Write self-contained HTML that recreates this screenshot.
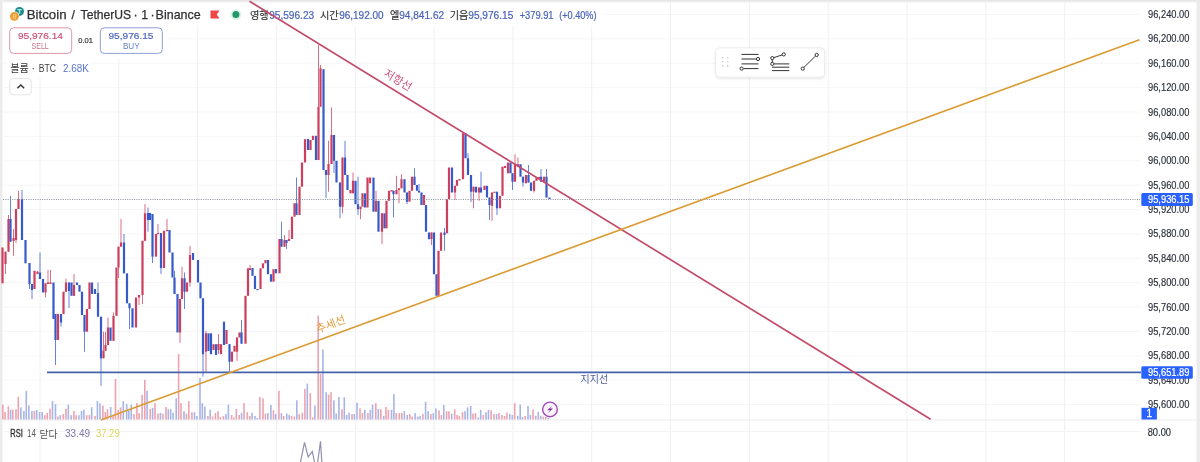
<!DOCTYPE html>
<html><head><meta charset="utf-8"><title>BTCUSDT chart</title>
<style>html,body{margin:0;padding:0;background:#fff;overflow:hidden;width:1200px;height:462px}svg{display:block}</style>
</head><body>
<svg width="1200" height="462" viewBox="0 0 1200 462">
<defs><filter id="sh" x="-10%" y="-20%" width="120%" height="150%"><feDropShadow dx="0" dy="1" stdDeviation="1" flood-color="#000" flood-opacity="0.12"/></filter></defs>
<rect x="0" y="0" width="1200" height="462" fill="#ffffff"/>
<rect x="0" y="0" width="1200" height="1.8" fill="#e6e6e6"/>
<rect x="0" y="1.8" width="1200" height="0.8" fill="#f3f3f3"/>
<rect x="0" y="0" width="2.4" height="462" fill="#ebebeb"/>
<rect x="2.4" y="0" width="0.8" height="462" fill="#f5f5f5"/>
<rect x="1196.5" y="0" width="3.5" height="462" fill="#ebebeb"/>
<line x1="3" y1="14.5" x2="1140" y2="14.5" stroke="#f6f6f8" stroke-width="1"/>
<line x1="3" y1="38.88" x2="1140" y2="38.88" stroke="#f6f6f8" stroke-width="1"/>
<line x1="3" y1="63.26" x2="1140" y2="63.26" stroke="#f6f6f8" stroke-width="1"/>
<line x1="3" y1="87.64" x2="1140" y2="87.64" stroke="#f6f6f8" stroke-width="1"/>
<line x1="3" y1="112.02" x2="1140" y2="112.02" stroke="#f6f6f8" stroke-width="1"/>
<line x1="3" y1="136.4" x2="1140" y2="136.4" stroke="#f6f6f8" stroke-width="1"/>
<line x1="3" y1="160.78" x2="1140" y2="160.78" stroke="#f6f6f8" stroke-width="1"/>
<line x1="3" y1="185.16" x2="1140" y2="185.16" stroke="#f6f6f8" stroke-width="1"/>
<line x1="3" y1="209.54" x2="1140" y2="209.54" stroke="#f6f6f8" stroke-width="1"/>
<line x1="3" y1="233.92" x2="1140" y2="233.92" stroke="#f6f6f8" stroke-width="1"/>
<line x1="3" y1="258.3" x2="1140" y2="258.3" stroke="#f6f6f8" stroke-width="1"/>
<line x1="3" y1="282.68" x2="1140" y2="282.68" stroke="#f6f6f8" stroke-width="1"/>
<line x1="3" y1="307.06" x2="1140" y2="307.06" stroke="#f6f6f8" stroke-width="1"/>
<line x1="3" y1="331.44" x2="1140" y2="331.44" stroke="#f6f6f8" stroke-width="1"/>
<line x1="3" y1="355.82" x2="1140" y2="355.82" stroke="#f6f6f8" stroke-width="1"/>
<line x1="3" y1="380.2" x2="1140" y2="380.2" stroke="#f6f6f8" stroke-width="1"/>
<line x1="3" y1="404.58" x2="1140" y2="404.58" stroke="#f6f6f8" stroke-width="1"/>
<line x1="40" y1="3" x2="40" y2="462" stroke="#f0f0f2" stroke-width="1"/>
<line x1="118.82" y1="3" x2="118.82" y2="462" stroke="#f0f0f2" stroke-width="1"/>
<line x1="197.64" y1="3" x2="197.64" y2="462" stroke="#f0f0f2" stroke-width="1"/>
<line x1="276.46" y1="3" x2="276.46" y2="462" stroke="#f0f0f2" stroke-width="1"/>
<line x1="355.28" y1="3" x2="355.28" y2="462" stroke="#f0f0f2" stroke-width="1"/>
<line x1="434.1" y1="3" x2="434.1" y2="462" stroke="#f0f0f2" stroke-width="1"/>
<line x1="512.92" y1="3" x2="512.92" y2="462" stroke="#f0f0f2" stroke-width="1"/>
<line x1="591.74" y1="3" x2="591.74" y2="462" stroke="#f0f0f2" stroke-width="1"/>
<line x1="670.56" y1="3" x2="670.56" y2="462" stroke="#f0f0f2" stroke-width="1"/>
<line x1="749.38" y1="3" x2="749.38" y2="462" stroke="#f0f0f2" stroke-width="1"/>
<line x1="828.2" y1="3" x2="828.2" y2="462" stroke="#f0f0f2" stroke-width="1"/>
<line x1="907.02" y1="3" x2="907.02" y2="462" stroke="#f0f0f2" stroke-width="1"/>
<line x1="985.84" y1="3" x2="985.84" y2="462" stroke="#f0f0f2" stroke-width="1"/>
<line x1="1064.66" y1="3" x2="1064.66" y2="462" stroke="#f0f0f2" stroke-width="1"/>
<line x1="3" y1="431.5" x2="1140" y2="431.5" stroke="#f3f4f6" stroke-width="1"/>
<line x1="3" y1="420" x2="1196" y2="420" stroke="#ebebed" stroke-width="1"/>
<rect x="3" y="3" width="600" height="23.5" fill="#ffffff"/>
<rect x="3" y="26.5" width="162" height="32" fill="#ffffff"/>
<rect x="7" y="58" width="86" height="19" fill="#ffffff"/>
<rect x="2" y="404.6" width="1.6" height="14.9" fill="#eba3b0"/>
<rect x="4.2" y="412" width="1.6" height="7.5" fill="#eba3b0"/>
<rect x="7.5" y="406.4" width="1.6" height="13.1" fill="#eba3b0"/>
<rect x="9.8" y="409.7" width="1.6" height="9.8" fill="#a7b5e6"/>
<rect x="12" y="409.7" width="1.6" height="9.8" fill="#eba3b0"/>
<rect x="15.2" y="409.2" width="1.6" height="10.3" fill="#eba3b0"/>
<rect x="17.5" y="396.8" width="1.6" height="22.7" fill="#eba3b0"/>
<rect x="20.1" y="407.4" width="1.6" height="12.1" fill="#a7b5e6"/>
<rect x="23.1" y="411" width="1.6" height="8.5" fill="#a7b5e6"/>
<rect x="25.5" y="390.8" width="1.6" height="28.7" fill="#a7b5e6"/>
<rect x="28.1" y="405.5" width="1.6" height="14" fill="#a7b5e6"/>
<rect x="31.1" y="411" width="1.6" height="8.5" fill="#a7b5e6"/>
<rect x="33.6" y="411" width="1.6" height="8.5" fill="#eba3b0"/>
<rect x="35.9" y="410" width="1.6" height="9.5" fill="#a7b5e6"/>
<rect x="38.8" y="412" width="1.6" height="7.5" fill="#a7b5e6"/>
<rect x="41.4" y="412" width="1.6" height="7.5" fill="#a7b5e6"/>
<rect x="43.9" y="415.2" width="1.6" height="4.3" fill="#eba3b0"/>
<rect x="46.4" y="412.9" width="1.6" height="6.6" fill="#eba3b0"/>
<rect x="49.2" y="408.7" width="1.6" height="10.8" fill="#eba3b0"/>
<rect x="51.7" y="400.9" width="1.6" height="18.6" fill="#a7b5e6"/>
<rect x="54.7" y="404.1" width="1.6" height="15.4" fill="#a7b5e6"/>
<rect x="57" y="416.5" width="1.6" height="3" fill="#eba3b0"/>
<rect x="59.5" y="415.2" width="1.6" height="4.3" fill="#a7b5e6"/>
<rect x="62.5" y="414.2" width="1.6" height="5.3" fill="#eba3b0"/>
<rect x="65.1" y="408.7" width="1.6" height="10.8" fill="#eba3b0"/>
<rect x="67.5" y="404.6" width="1.6" height="14.9" fill="#a7b5e6"/>
<rect x="70.3" y="415.2" width="1.6" height="4.3" fill="#a7b5e6"/>
<rect x="73.1" y="411" width="1.6" height="8.5" fill="#eba3b0"/>
<rect x="75.3" y="415.2" width="1.6" height="4.3" fill="#eba3b0"/>
<rect x="78.1" y="415.2" width="1.6" height="4.3" fill="#a7b5e6"/>
<rect x="80.7" y="411" width="1.6" height="8.5" fill="#a7b5e6"/>
<rect x="83.1" y="409.7" width="1.6" height="9.8" fill="#a7b5e6"/>
<rect x="85.9" y="415.2" width="1.6" height="4.3" fill="#eba3b0"/>
<rect x="88.6" y="415" width="1.6" height="4.5" fill="#eba3b0"/>
<rect x="90.9" y="407.2" width="1.6" height="12.3" fill="#a7b5e6"/>
<rect x="94.2" y="416" width="1.6" height="3.5" fill="#eba3b0"/>
<rect x="96.6" y="401" width="1.6" height="18.5" fill="#a7b5e6"/>
<rect x="99.2" y="403.2" width="1.6" height="16.3" fill="#a7b5e6"/>
<rect x="102.1" y="405.5" width="1.6" height="14" fill="#eba3b0"/>
<rect x="104.5" y="412" width="1.6" height="7.5" fill="#eba3b0"/>
<rect x="106.7" y="409.2" width="1.6" height="10.3" fill="#eba3b0"/>
<rect x="109.9" y="407" width="1.6" height="12.5" fill="#a7b5e6"/>
<rect x="112.3" y="416" width="1.6" height="3.5" fill="#eba3b0"/>
<rect x="114.7" y="378.9" width="1.6" height="40.6" fill="#eba3b0"/>
<rect x="117.5" y="409.8" width="1.6" height="9.7" fill="#eba3b0"/>
<rect x="119.9" y="407.4" width="1.6" height="12.1" fill="#eba3b0"/>
<rect x="122.5" y="401" width="1.6" height="18.5" fill="#a7b5e6"/>
<rect x="125.9" y="404.1" width="1.6" height="15.4" fill="#a7b5e6"/>
<rect x="128" y="410.3" width="1.6" height="9.2" fill="#a7b5e6"/>
<rect x="130.4" y="404.6" width="1.6" height="14.9" fill="#a7b5e6"/>
<rect x="133.2" y="414" width="1.6" height="5.5" fill="#eba3b0"/>
<rect x="136.1" y="403.1" width="1.6" height="16.4" fill="#eba3b0"/>
<rect x="138.3" y="413.1" width="1.6" height="6.4" fill="#eba3b0"/>
<rect x="141.3" y="395" width="1.6" height="24.5" fill="#eba3b0"/>
<rect x="144" y="379.8" width="1.6" height="39.7" fill="#eba3b0"/>
<rect x="146.3" y="390.8" width="1.6" height="28.7" fill="#a7b5e6"/>
<rect x="149.4" y="408.9" width="1.6" height="10.6" fill="#eba3b0"/>
<rect x="151.8" y="407.9" width="1.6" height="11.6" fill="#a7b5e6"/>
<rect x="154.2" y="403.1" width="1.6" height="16.4" fill="#eba3b0"/>
<rect x="157.1" y="413.6" width="1.6" height="5.9" fill="#eba3b0"/>
<rect x="159.6" y="412.7" width="1.6" height="6.8" fill="#a7b5e6"/>
<rect x="162.1" y="413.6" width="1.6" height="5.9" fill="#eba3b0"/>
<rect x="165.2" y="407" width="1.6" height="12.5" fill="#eba3b0"/>
<rect x="167.5" y="409.3" width="1.6" height="10.2" fill="#a7b5e6"/>
<rect x="169.9" y="409.3" width="1.6" height="10.2" fill="#a7b5e6"/>
<rect x="172.3" y="412.7" width="1.6" height="6.8" fill="#a7b5e6"/>
<rect x="175.4" y="398.4" width="1.6" height="21.1" fill="#a7b5e6"/>
<rect x="177.8" y="354" width="1.6" height="65.5" fill="#eba3b0"/>
<rect x="180.2" y="403.1" width="1.6" height="16.4" fill="#eba3b0"/>
<rect x="183.2" y="411.2" width="1.6" height="8.3" fill="#a7b5e6"/>
<rect x="185.6" y="413.6" width="1.6" height="5.9" fill="#eba3b0"/>
<rect x="188" y="401.2" width="1.6" height="18.3" fill="#eba3b0"/>
<rect x="191.1" y="412.2" width="1.6" height="7.3" fill="#eba3b0"/>
<rect x="193.7" y="412.2" width="1.6" height="7.3" fill="#a7b5e6"/>
<rect x="196.1" y="416" width="1.6" height="3.5" fill="#a7b5e6"/>
<rect x="199.2" y="378" width="1.6" height="41.5" fill="#a7b5e6"/>
<rect x="201.5" y="403.1" width="1.6" height="16.4" fill="#a7b5e6"/>
<rect x="204" y="406.5" width="1.6" height="13" fill="#a7b5e6"/>
<rect x="207.1" y="416" width="1.6" height="3.5" fill="#eba3b0"/>
<rect x="209.4" y="409.8" width="1.6" height="9.7" fill="#a7b5e6"/>
<rect x="211.8" y="416.5" width="1.6" height="3" fill="#eba3b0"/>
<rect x="214.6" y="413.1" width="1.6" height="6.4" fill="#eba3b0"/>
<rect x="217.2" y="411.2" width="1.6" height="8.3" fill="#eba3b0"/>
<rect x="219.6" y="417" width="1.6" height="2.5" fill="#eba3b0"/>
<rect x="222.7" y="416" width="1.6" height="3.5" fill="#eba3b0"/>
<rect x="225.2" y="414" width="1.6" height="5.5" fill="#a7b5e6"/>
<rect x="227.6" y="404.6" width="1.6" height="14.9" fill="#a7b5e6"/>
<rect x="230.8" y="415" width="1.6" height="4.5" fill="#eba3b0"/>
<rect x="233" y="417.4" width="1.6" height="2.1" fill="#eba3b0"/>
<rect x="235.5" y="408.9" width="1.6" height="10.6" fill="#eba3b0"/>
<rect x="238.4" y="415" width="1.6" height="4.5" fill="#eba3b0"/>
<rect x="240.8" y="412.7" width="1.6" height="6.8" fill="#a7b5e6"/>
<rect x="243.2" y="403.1" width="1.6" height="16.4" fill="#eba3b0"/>
<rect x="246.5" y="412.2" width="1.6" height="7.3" fill="#eba3b0"/>
<rect x="248.9" y="416" width="1.6" height="3.5" fill="#eba3b0"/>
<rect x="251.2" y="412.7" width="1.6" height="6.8" fill="#a7b5e6"/>
<rect x="254.1" y="416" width="1.6" height="3.5" fill="#a7b5e6"/>
<rect x="256.5" y="417.9" width="1.6" height="1.6" fill="#a7b5e6"/>
<rect x="259.1" y="397" width="1.6" height="22.5" fill="#eba3b0"/>
<rect x="262.2" y="398.4" width="1.6" height="21.1" fill="#eba3b0"/>
<rect x="264.6" y="413.6" width="1.6" height="5.9" fill="#eba3b0"/>
<rect x="267" y="413.1" width="1.6" height="6.4" fill="#a7b5e6"/>
<rect x="270.1" y="405" width="1.6" height="14.5" fill="#a7b5e6"/>
<rect x="272.7" y="410.3" width="1.6" height="9.2" fill="#eba3b0"/>
<rect x="274.9" y="414.1" width="1.6" height="5.4" fill="#a7b5e6"/>
<rect x="278.1" y="390.8" width="1.6" height="28.7" fill="#eba3b0"/>
<rect x="280.6" y="413.1" width="1.6" height="6.4" fill="#a7b5e6"/>
<rect x="282.9" y="416" width="1.6" height="3.5" fill="#eba3b0"/>
<rect x="286" y="413.6" width="1.6" height="5.9" fill="#a7b5e6"/>
<rect x="288.4" y="415" width="1.6" height="4.5" fill="#a7b5e6"/>
<rect x="290.8" y="416" width="1.6" height="3.5" fill="#eba3b0"/>
<rect x="293.6" y="416.5" width="1.6" height="3" fill="#eba3b0"/>
<rect x="296" y="400.3" width="1.6" height="19.2" fill="#a7b5e6"/>
<rect x="298.4" y="414.1" width="1.6" height="5.4" fill="#eba3b0"/>
<rect x="301.5" y="412.7" width="1.6" height="6.8" fill="#eba3b0"/>
<rect x="304.1" y="388.9" width="1.6" height="30.6" fill="#eba3b0"/>
<rect x="306.5" y="383.6" width="1.6" height="35.9" fill="#a7b5e6"/>
<rect x="309.5" y="393.1" width="1.6" height="26.4" fill="#eba3b0"/>
<rect x="312" y="417.4" width="1.6" height="2.1" fill="#eba3b0"/>
<rect x="314.1" y="405.5" width="1.6" height="14" fill="#a7b5e6"/>
<rect x="317.4" y="315.6" width="1.6" height="103.9" fill="#eba3b0"/>
<rect x="319.8" y="374" width="1.6" height="45.5" fill="#eba3b0"/>
<rect x="322.1" y="349.4" width="1.6" height="70.1" fill="#a7b5e6"/>
<rect x="325.4" y="392.2" width="1.6" height="27.3" fill="#a7b5e6"/>
<rect x="327.8" y="394.6" width="1.6" height="24.9" fill="#eba3b0"/>
<rect x="330.2" y="392.2" width="1.6" height="27.3" fill="#eba3b0"/>
<rect x="333.1" y="400.3" width="1.6" height="19.2" fill="#a7b5e6"/>
<rect x="335.4" y="413.6" width="1.6" height="5.9" fill="#a7b5e6"/>
<rect x="338.1" y="397" width="1.6" height="22.5" fill="#a7b5e6"/>
<rect x="341.2" y="409.3" width="1.6" height="10.2" fill="#eba3b0"/>
<rect x="343.5" y="397.4" width="1.6" height="22.1" fill="#a7b5e6"/>
<rect x="345.9" y="415" width="1.6" height="4.5" fill="#a7b5e6"/>
<rect x="348.3" y="412.7" width="1.6" height="6.8" fill="#a7b5e6"/>
<rect x="351.2" y="414.1" width="1.6" height="5.4" fill="#eba3b0"/>
<rect x="353.5" y="414.1" width="1.6" height="5.4" fill="#a7b5e6"/>
<rect x="356.2" y="402.7" width="1.6" height="16.8" fill="#a7b5e6"/>
<rect x="359.2" y="408.4" width="1.6" height="11.1" fill="#eba3b0"/>
<rect x="361.6" y="413.1" width="1.6" height="6.4" fill="#eba3b0"/>
<rect x="364" y="409.8" width="1.6" height="9.7" fill="#a7b5e6"/>
<rect x="367.1" y="413.1" width="1.6" height="6.4" fill="#eba3b0"/>
<rect x="369.5" y="409.8" width="1.6" height="9.7" fill="#a7b5e6"/>
<rect x="371.8" y="404.6" width="1.6" height="14.9" fill="#a7b5e6"/>
<rect x="375" y="403.1" width="1.6" height="16.4" fill="#eba3b0"/>
<rect x="377.5" y="408.9" width="1.6" height="10.6" fill="#a7b5e6"/>
<rect x="380" y="409.3" width="1.6" height="10.2" fill="#eba3b0"/>
<rect x="382.9" y="416" width="1.6" height="3.5" fill="#a7b5e6"/>
<rect x="385.2" y="407" width="1.6" height="12.5" fill="#eba3b0"/>
<rect x="387.6" y="409.8" width="1.6" height="9.7" fill="#eba3b0"/>
<rect x="390.7" y="409.8" width="1.6" height="9.7" fill="#a7b5e6"/>
<rect x="393.1" y="394.1" width="1.6" height="25.4" fill="#a7b5e6"/>
<rect x="395.4" y="413.1" width="1.6" height="6.4" fill="#eba3b0"/>
<rect x="398.5" y="413.1" width="1.6" height="6.4" fill="#eba3b0"/>
<rect x="401" y="412.7" width="1.6" height="6.8" fill="#eba3b0"/>
<rect x="403.5" y="411.2" width="1.6" height="8.3" fill="#a7b5e6"/>
<rect x="406.4" y="415" width="1.6" height="4.5" fill="#a7b5e6"/>
<rect x="409" y="414.1" width="1.6" height="5.4" fill="#eba3b0"/>
<rect x="411.4" y="416.5" width="1.6" height="3" fill="#eba3b0"/>
<rect x="414.3" y="413.1" width="1.6" height="6.4" fill="#a7b5e6"/>
<rect x="416.9" y="416.5" width="1.6" height="3" fill="#a7b5e6"/>
<rect x="419.2" y="416" width="1.6" height="3.5" fill="#a7b5e6"/>
<rect x="422.1" y="414.1" width="1.6" height="5.4" fill="#eba3b0"/>
<rect x="424.8" y="401.7" width="1.6" height="17.8" fill="#a7b5e6"/>
<rect x="427.3" y="411.2" width="1.6" height="8.3" fill="#a7b5e6"/>
<rect x="430.1" y="414.1" width="1.6" height="5.4" fill="#eba3b0"/>
<rect x="432.5" y="413.1" width="1.6" height="6.4" fill="#a7b5e6"/>
<rect x="435.1" y="408.4" width="1.6" height="11.1" fill="#a7b5e6"/>
<rect x="438.2" y="410.3" width="1.6" height="9.2" fill="#eba3b0"/>
<rect x="440.6" y="415" width="1.6" height="4.5" fill="#eba3b0"/>
<rect x="443" y="405" width="1.6" height="14.5" fill="#a7b5e6"/>
<rect x="445.8" y="411.2" width="1.6" height="8.3" fill="#eba3b0"/>
<rect x="448.2" y="411.2" width="1.6" height="8.3" fill="#eba3b0"/>
<rect x="450.9" y="413.6" width="1.6" height="5.9" fill="#a7b5e6"/>
<rect x="453.9" y="409.3" width="1.6" height="10.2" fill="#eba3b0"/>
<rect x="456.3" y="415" width="1.6" height="4.5" fill="#eba3b0"/>
<rect x="458.5" y="416" width="1.6" height="3.5" fill="#eba3b0"/>
<rect x="461.7" y="412.2" width="1.6" height="7.3" fill="#eba3b0"/>
<rect x="464.2" y="411.2" width="1.6" height="8.3" fill="#a7b5e6"/>
<rect x="466.8" y="407.4" width="1.6" height="12.1" fill="#a7b5e6"/>
<rect x="469.9" y="406" width="1.6" height="13.5" fill="#a7b5e6"/>
<rect x="472.2" y="413.6" width="1.6" height="5.9" fill="#eba3b0"/>
<rect x="474.7" y="413.1" width="1.6" height="6.4" fill="#eba3b0"/>
<rect x="477.5" y="417.4" width="1.6" height="2.1" fill="#a7b5e6"/>
<rect x="479.9" y="409.8" width="1.6" height="9.7" fill="#a7b5e6"/>
<rect x="482.5" y="415" width="1.6" height="4.5" fill="#eba3b0"/>
<rect x="485.3" y="412.2" width="1.6" height="7.3" fill="#a7b5e6"/>
<rect x="487.7" y="409.8" width="1.6" height="9.7" fill="#a7b5e6"/>
<rect x="490.3" y="410.3" width="1.6" height="9.2" fill="#eba3b0"/>
<rect x="493.2" y="414.1" width="1.6" height="5.4" fill="#eba3b0"/>
<rect x="495.8" y="414.1" width="1.6" height="5.4" fill="#a7b5e6"/>
<rect x="498.2" y="413.1" width="1.6" height="6.4" fill="#eba3b0"/>
<rect x="501.1" y="415" width="1.6" height="4.5" fill="#eba3b0"/>
<rect x="503.7" y="416" width="1.6" height="3.5" fill="#eba3b0"/>
<rect x="506.1" y="412.7" width="1.6" height="6.8" fill="#eba3b0"/>
<rect x="509" y="414.1" width="1.6" height="5.4" fill="#a7b5e6"/>
<rect x="511.5" y="415" width="1.6" height="4.5" fill="#a7b5e6"/>
<rect x="513.9" y="403.1" width="1.6" height="16.4" fill="#eba3b0"/>
<rect x="517" y="415.8" width="1.6" height="3.7" fill="#a7b5e6"/>
<rect x="519.4" y="404.6" width="1.6" height="14.9" fill="#a7b5e6"/>
<rect x="521.7" y="417" width="1.6" height="2.5" fill="#a7b5e6"/>
<rect x="524.4" y="416" width="1.6" height="3.5" fill="#eba3b0"/>
<rect x="527.2" y="406" width="1.6" height="13.5" fill="#a7b5e6"/>
<rect x="529.6" y="415" width="1.6" height="4.5" fill="#a7b5e6"/>
<rect x="532.2" y="409.4" width="1.6" height="10.1" fill="#eba3b0"/>
<rect x="535" y="415.8" width="1.6" height="3.7" fill="#eba3b0"/>
<rect x="537.5" y="411.8" width="1.6" height="7.7" fill="#a7b5e6"/>
<rect x="540" y="415.8" width="1.6" height="3.7" fill="#a7b5e6"/>
<rect x="542.6" y="416.6" width="1.6" height="2.9" fill="#eba3b0"/>
<rect x="545" y="417" width="1.6" height="2.5" fill="#eba3b0"/>
<rect x="547.5" y="418" width="1.6" height="1.5" fill="#a7b5e6"/>
<rect x="1.4" y="247.5" width="2.2" height="35.8" fill="#cc3f5e"/>
<rect x="5" y="251.7" width="1" height="22.3" fill="#cc3f5e" opacity="0.75"/>
<rect x="4.4" y="251.7" width="2.2" height="12.3" fill="#cc3f5e"/>
<rect x="8" y="215" width="1" height="36.7" fill="#cc3f5e" opacity="0.75"/>
<rect x="7.4" y="219" width="2.2" height="32.7" fill="#cc3f5e"/>
<rect x="10" y="195.8" width="1" height="45.9" fill="#375acb" opacity="0.75"/>
<rect x="9.4" y="219" width="2.2" height="22.7" fill="#375acb"/>
<rect x="13" y="229" width="1" height="26.8" fill="#cc3f5e" opacity="0.75"/>
<rect x="12.4" y="238" width="2.2" height="3" fill="#cc3f5e"/>
<rect x="15.5" y="209" width="1" height="34" fill="#cc3f5e" opacity="0.75"/>
<rect x="14.9" y="209" width="2.2" height="31" fill="#cc3f5e"/>
<rect x="18" y="190.8" width="1" height="18.2" fill="#cc3f5e" opacity="0.75"/>
<rect x="17.4" y="199" width="2.2" height="10" fill="#cc3f5e"/>
<rect x="21.5" y="190" width="1" height="50" fill="#375acb" opacity="0.75"/>
<rect x="20.9" y="199" width="2.2" height="41" fill="#375acb"/>
<rect x="24.4" y="240" width="2.2" height="23.3" fill="#375acb"/>
<rect x="29" y="263" width="1" height="26" fill="#375acb" opacity="0.75"/>
<rect x="28.4" y="263" width="2.2" height="21" fill="#375acb"/>
<rect x="31.5" y="284" width="1" height="15" fill="#375acb" opacity="0.75"/>
<rect x="30.9" y="284" width="2.2" height="6" fill="#375acb"/>
<rect x="33.4" y="270.8" width="2.2" height="18.2" fill="#cc3f5e"/>
<rect x="37" y="271" width="1" height="3" fill="#cc3f5e" opacity="0.75"/>
<rect x="36.4" y="271.7" width="2.2" height="2.3" fill="#cc3f5e"/>
<rect x="39.5" y="252.5" width="1" height="26.5" fill="#375acb" opacity="0.75"/>
<rect x="38.9" y="272.5" width="2.2" height="6.5" fill="#375acb"/>
<rect x="41.9" y="279" width="2.2" height="13.5" fill="#375acb"/>
<rect x="45" y="283.3" width="1" height="14.2" fill="#cc3f5e" opacity="0.75"/>
<rect x="44.4" y="283.3" width="2.2" height="9.2" fill="#cc3f5e"/>
<rect x="47.5" y="270" width="1" height="14" fill="#cc3f5e" opacity="0.75"/>
<rect x="46.9" y="282.5" width="2.2" height="1.5" fill="#cc3f5e"/>
<rect x="50" y="270" width="1" height="14" fill="#cc3f5e" opacity="0.75"/>
<rect x="49.4" y="282.5" width="2.2" height="1.5" fill="#cc3f5e"/>
<rect x="52.4" y="282.5" width="2.2" height="36.5" fill="#375acb"/>
<rect x="55" y="314" width="1" height="51" fill="#375acb" opacity="0.75"/>
<rect x="54.4" y="314" width="2.2" height="26" fill="#375acb"/>
<rect x="56.9" y="314" width="2.2" height="26" fill="#cc3f5e"/>
<rect x="60.5" y="314" width="1" height="12.7" fill="#375acb" opacity="0.75"/>
<rect x="59.9" y="314" width="2.2" height="8.5" fill="#375acb"/>
<rect x="62.4" y="291.7" width="2.2" height="22.3" fill="#cc3f5e"/>
<rect x="65.5" y="278.7" width="1" height="13" fill="#cc3f5e" opacity="0.75"/>
<rect x="64.9" y="282.5" width="2.2" height="9.2" fill="#cc3f5e"/>
<rect x="68.5" y="282.5" width="1" height="25.5" fill="#375acb" opacity="0.75"/>
<rect x="67.9" y="282.5" width="2.2" height="8.5" fill="#375acb"/>
<rect x="70.4" y="282.5" width="2.2" height="13.3" fill="#375acb"/>
<rect x="73.5" y="274" width="1" height="21.8" fill="#cc3f5e" opacity="0.75"/>
<rect x="72.9" y="285" width="2.2" height="10.8" fill="#cc3f5e"/>
<rect x="75.9" y="282.5" width="2.2" height="2.5" fill="#375acb"/>
<rect x="78.4" y="285" width="2.2" height="6.7" fill="#375acb"/>
<rect x="80.9" y="291.7" width="2.2" height="23.3" fill="#375acb"/>
<rect x="84" y="315" width="1" height="36.7" fill="#375acb" opacity="0.75"/>
<rect x="83.4" y="315" width="2.2" height="16.7" fill="#375acb"/>
<rect x="85.9" y="309" width="2.2" height="22.7" fill="#cc3f5e"/>
<rect x="88.4" y="282.5" width="2.2" height="26.5" fill="#cc3f5e"/>
<rect x="90.9" y="282.5" width="2.2" height="11.5" fill="#375acb"/>
<rect x="93.9" y="289" width="2.2" height="5" fill="#375acb"/>
<rect x="97.5" y="282.5" width="1" height="34.2" fill="#375acb" opacity="0.75"/>
<rect x="96.9" y="293" width="2.2" height="23.7" fill="#375acb"/>
<rect x="100.5" y="316.7" width="1" height="69.1" fill="#375acb" opacity="0.75"/>
<rect x="99.9" y="316.7" width="2.2" height="41.6" fill="#375acb"/>
<rect x="103" y="331.7" width="1" height="26.6" fill="#cc3f5e" opacity="0.75"/>
<rect x="102.4" y="350.8" width="2.2" height="7.5" fill="#cc3f5e"/>
<rect x="105" y="331.7" width="1" height="19.1" fill="#cc3f5e" opacity="0.75"/>
<rect x="104.4" y="345" width="2.2" height="5.8" fill="#cc3f5e"/>
<rect x="107.5" y="317.5" width="1" height="27.5" fill="#cc3f5e" opacity="0.75"/>
<rect x="106.9" y="327.5" width="2.2" height="17.5" fill="#cc3f5e"/>
<rect x="109.4" y="327.5" width="2.2" height="13.3" fill="#375acb"/>
<rect x="113" y="312.5" width="1" height="28.3" fill="#cc3f5e" opacity="0.75"/>
<rect x="112.4" y="315.8" width="2.2" height="25" fill="#cc3f5e"/>
<rect x="115.4" y="267.5" width="2.2" height="48.3" fill="#cc3f5e"/>
<rect x="118" y="246.7" width="1" height="31.3" fill="#cc3f5e" opacity="0.75"/>
<rect x="117.4" y="246.7" width="2.2" height="20.8" fill="#cc3f5e"/>
<rect x="120.5" y="219" width="1" height="27.7" fill="#cc3f5e" opacity="0.75"/>
<rect x="119.9" y="242.5" width="2.2" height="4.2" fill="#cc3f5e"/>
<rect x="123.5" y="234" width="1" height="39.3" fill="#375acb" opacity="0.75"/>
<rect x="122.9" y="242.5" width="2.2" height="30.8" fill="#375acb"/>
<rect x="125.9" y="273.3" width="2.2" height="30" fill="#375acb"/>
<rect x="129" y="303.3" width="1" height="25.7" fill="#375acb" opacity="0.75"/>
<rect x="128.4" y="303.3" width="2.2" height="5" fill="#375acb"/>
<rect x="131.4" y="308.3" width="2.2" height="19.2" fill="#375acb"/>
<rect x="134.9" y="297.5" width="2.2" height="30" fill="#cc3f5e"/>
<rect x="138.5" y="295" width="1" height="10" fill="#cc3f5e" opacity="0.75"/>
<rect x="137.9" y="295" width="2.2" height="2.5" fill="#cc3f5e"/>
<rect x="142" y="240.8" width="1" height="63.2" fill="#cc3f5e" opacity="0.75"/>
<rect x="141.4" y="240.8" width="2.2" height="54.2" fill="#cc3f5e"/>
<rect x="144.5" y="204" width="1" height="36.8" fill="#cc3f5e" opacity="0.75"/>
<rect x="143.9" y="213.3" width="2.2" height="27.5" fill="#cc3f5e"/>
<rect x="147.5" y="207.5" width="1" height="24.2" fill="#375acb" opacity="0.75"/>
<rect x="146.9" y="213" width="2.2" height="7" fill="#375acb"/>
<rect x="148.9" y="213" width="2.2" height="7" fill="#375acb"/>
<rect x="152" y="214" width="1" height="49" fill="#375acb" opacity="0.75"/>
<rect x="151.4" y="214" width="2.2" height="42.7" fill="#375acb"/>
<rect x="154.9" y="234" width="2.2" height="22.7" fill="#cc3f5e"/>
<rect x="157.5" y="224" width="1" height="10" fill="#cc3f5e" opacity="0.75"/>
<rect x="156.9" y="233" width="2.2" height="1.2" fill="#cc3f5e"/>
<rect x="160.5" y="233" width="1" height="41" fill="#375acb" opacity="0.75"/>
<rect x="159.9" y="233" width="2.2" height="35" fill="#375acb"/>
<rect x="162.9" y="230.8" width="2.2" height="37.2" fill="#cc3f5e"/>
<rect x="166.5" y="219" width="1" height="12" fill="#cc3f5e" opacity="0.75"/>
<rect x="165.9" y="230" width="2.2" height="1.2" fill="#cc3f5e"/>
<rect x="168.4" y="230" width="2.2" height="22.5" fill="#375acb"/>
<rect x="171.4" y="252.5" width="2.2" height="25" fill="#375acb"/>
<rect x="174" y="270.8" width="1" height="23.2" fill="#375acb" opacity="0.75"/>
<rect x="173.4" y="277.5" width="2.2" height="16.5" fill="#375acb"/>
<rect x="176.4" y="294" width="2.2" height="38.5" fill="#375acb"/>
<rect x="179.5" y="299" width="1" height="44" fill="#cc3f5e" opacity="0.75"/>
<rect x="178.9" y="299" width="2.2" height="33.5" fill="#cc3f5e"/>
<rect x="181.5" y="266.7" width="1" height="32.3" fill="#cc3f5e" opacity="0.75"/>
<rect x="180.9" y="278.3" width="2.2" height="20.7" fill="#cc3f5e"/>
<rect x="184" y="272.5" width="1" height="36.5" fill="#375acb" opacity="0.75"/>
<rect x="183.4" y="278.3" width="2.2" height="13.4" fill="#375acb"/>
<rect x="185.9" y="282.5" width="2.2" height="9.2" fill="#cc3f5e"/>
<rect x="189.5" y="245.8" width="1" height="40.9" fill="#cc3f5e" opacity="0.75"/>
<rect x="188.9" y="255" width="2.2" height="27.5" fill="#cc3f5e"/>
<rect x="191.9" y="253" width="2.2" height="7" fill="#375acb"/>
<rect x="196.9" y="260" width="2.2" height="22.5" fill="#375acb"/>
<rect x="199.4" y="282.5" width="2.2" height="15.8" fill="#375acb"/>
<rect x="202.5" y="298.3" width="1" height="78.4" fill="#375acb" opacity="0.75"/>
<rect x="201.9" y="298.3" width="2.2" height="55.9" fill="#375acb"/>
<rect x="205.5" y="330.8" width="1" height="40.9" fill="#cc3f5e" opacity="0.75"/>
<rect x="204.9" y="333.3" width="2.2" height="18.4" fill="#cc3f5e"/>
<rect x="207.4" y="333.3" width="2.2" height="17.7" fill="#375acb"/>
<rect x="209.9" y="333.3" width="2.2" height="20.9" fill="#375acb"/>
<rect x="212.4" y="344.2" width="2.2" height="5.8" fill="#cc3f5e"/>
<rect x="214.9" y="344.2" width="2.2" height="10.8" fill="#375acb"/>
<rect x="218" y="334" width="1" height="20" fill="#cc3f5e" opacity="0.75"/>
<rect x="217.4" y="344" width="2.2" height="6" fill="#cc3f5e"/>
<rect x="219.9" y="344.2" width="2.2" height="10" fill="#cc3f5e"/>
<rect x="222.9" y="321.7" width="2.2" height="23.3" fill="#375acb"/>
<rect x="225.4" y="330" width="2.2" height="14" fill="#cc3f5e"/>
<rect x="229" y="344.2" width="1" height="27.5" fill="#375acb" opacity="0.75"/>
<rect x="228.4" y="344.2" width="2.2" height="17.5" fill="#375acb"/>
<rect x="230.9" y="351.7" width="2.2" height="10" fill="#cc3f5e"/>
<rect x="233.4" y="345.8" width="2.2" height="5.9" fill="#cc3f5e"/>
<rect x="236.5" y="337.5" width="1" height="23.3" fill="#cc3f5e" opacity="0.75"/>
<rect x="235.9" y="337.5" width="2.2" height="14.2" fill="#cc3f5e"/>
<rect x="238.4" y="332.5" width="2.2" height="5" fill="#cc3f5e"/>
<rect x="241" y="320" width="1" height="23.7" fill="#375acb" opacity="0.75"/>
<rect x="240.4" y="332.5" width="2.2" height="11.2" fill="#375acb"/>
<rect x="244.4" y="295.8" width="2.2" height="47.9" fill="#cc3f5e"/>
<rect x="246.9" y="268.3" width="2.2" height="27.5" fill="#cc3f5e"/>
<rect x="249.5" y="265" width="1" height="5" fill="#cc3f5e" opacity="0.75"/>
<rect x="248.9" y="268.3" width="2.2" height="1.7" fill="#cc3f5e"/>
<rect x="251.4" y="268" width="2.2" height="7.8" fill="#375acb"/>
<rect x="253.9" y="275.8" width="2.2" height="13.2" fill="#375acb"/>
<rect x="256.4" y="289" width="2.2" height="1.2" fill="#375acb"/>
<rect x="259.4" y="268.3" width="2.2" height="20.7" fill="#cc3f5e"/>
<rect x="261.9" y="263.3" width="2.2" height="5" fill="#cc3f5e"/>
<rect x="264.4" y="260" width="2.2" height="3.3" fill="#cc3f5e"/>
<rect x="266.9" y="260" width="2.2" height="14.2" fill="#375acb"/>
<rect x="269.9" y="274.2" width="2.2" height="7.5" fill="#375acb"/>
<rect x="272.4" y="269.2" width="2.2" height="12.5" fill="#cc3f5e"/>
<rect x="274.9" y="269" width="2.2" height="4.3" fill="#375acb"/>
<rect x="278.4" y="239" width="2.2" height="34.3" fill="#cc3f5e"/>
<rect x="281" y="221.7" width="1" height="25" fill="#375acb" opacity="0.75"/>
<rect x="280.4" y="239" width="2.2" height="7.7" fill="#375acb"/>
<rect x="284" y="235" width="1" height="11.7" fill="#cc3f5e" opacity="0.75"/>
<rect x="283.4" y="240" width="2.2" height="6.7" fill="#cc3f5e"/>
<rect x="286" y="240" width="1" height="9" fill="#375acb" opacity="0.75"/>
<rect x="285.4" y="240" width="2.2" height="3" fill="#375acb"/>
<rect x="288.5" y="230" width="1" height="11" fill="#cc3f5e" opacity="0.75"/>
<rect x="287.9" y="239" width="2.2" height="2" fill="#cc3f5e"/>
<rect x="290.9" y="216.7" width="2.2" height="22.3" fill="#cc3f5e"/>
<rect x="293.4" y="203.3" width="2.2" height="13.4" fill="#cc3f5e"/>
<rect x="296" y="177.5" width="1" height="37.5" fill="#375acb" opacity="0.75"/>
<rect x="295.4" y="203.3" width="2.2" height="11.7" fill="#375acb"/>
<rect x="298.4" y="186.7" width="2.2" height="28.3" fill="#cc3f5e"/>
<rect x="300.9" y="162.5" width="2.2" height="24.2" fill="#cc3f5e"/>
<rect x="303.9" y="139.2" width="2.2" height="23.3" fill="#cc3f5e"/>
<rect x="306.9" y="139" width="2.2" height="11" fill="#375acb"/>
<rect x="309.4" y="140" width="2.2" height="10" fill="#cc3f5e"/>
<rect x="311.9" y="135.8" width="2.2" height="4.2" fill="#cc3f5e"/>
<rect x="314.9" y="135.8" width="2.2" height="24.2" fill="#375acb"/>
<rect x="318" y="45" width="1" height="115" fill="#cc3f5e" opacity="0.75"/>
<rect x="317.4" y="106.7" width="2.2" height="53.3" fill="#cc3f5e"/>
<rect x="320" y="65" width="1" height="41.7" fill="#cc3f5e" opacity="0.75"/>
<rect x="319.4" y="68.3" width="2.2" height="38.4" fill="#cc3f5e"/>
<rect x="322.4" y="69.2" width="2.2" height="100.8" fill="#375acb"/>
<rect x="325.5" y="170" width="1" height="28" fill="#375acb" opacity="0.75"/>
<rect x="324.9" y="170" width="2.2" height="5" fill="#375acb"/>
<rect x="328" y="140.8" width="1" height="50.9" fill="#cc3f5e" opacity="0.75"/>
<rect x="327.4" y="164" width="2.2" height="11" fill="#cc3f5e"/>
<rect x="331" y="107.5" width="1" height="56.5" fill="#cc3f5e" opacity="0.75"/>
<rect x="330.4" y="135" width="2.2" height="29" fill="#cc3f5e"/>
<rect x="333.5" y="135" width="1" height="38" fill="#375acb" opacity="0.75"/>
<rect x="332.9" y="135" width="2.2" height="25.8" fill="#375acb"/>
<rect x="335.4" y="160.8" width="2.2" height="21.7" fill="#375acb"/>
<rect x="339.5" y="182.5" width="1" height="35.8" fill="#375acb" opacity="0.75"/>
<rect x="338.9" y="182.5" width="2.2" height="24.2" fill="#375acb"/>
<rect x="342" y="157.5" width="1" height="55.8" fill="#cc3f5e" opacity="0.75"/>
<rect x="341.4" y="157.5" width="2.2" height="49.2" fill="#cc3f5e"/>
<rect x="344.5" y="140.8" width="1" height="34.2" fill="#375acb" opacity="0.75"/>
<rect x="343.9" y="157.5" width="2.2" height="17.5" fill="#375acb"/>
<rect x="346.4" y="175" width="2.2" height="15" fill="#375acb"/>
<rect x="349.4" y="190" width="2.2" height="3.3" fill="#cc3f5e"/>
<rect x="352.5" y="172.5" width="1" height="20.8" fill="#cc3f5e" opacity="0.75"/>
<rect x="351.9" y="180.8" width="2.2" height="12.5" fill="#cc3f5e"/>
<rect x="354.4" y="180.8" width="2.2" height="23.4" fill="#375acb"/>
<rect x="357.5" y="176.7" width="1" height="38.3" fill="#375acb" opacity="0.75"/>
<rect x="356.9" y="204.2" width="2.2" height="5" fill="#375acb"/>
<rect x="360" y="206.7" width="1" height="12.5" fill="#cc3f5e" opacity="0.75"/>
<rect x="359.4" y="206.7" width="2.2" height="2.3" fill="#cc3f5e"/>
<rect x="361.4" y="193.3" width="2.2" height="13.4" fill="#cc3f5e"/>
<rect x="363.9" y="193.3" width="2.2" height="14.2" fill="#375acb"/>
<rect x="366.4" y="177.5" width="2.2" height="30" fill="#cc3f5e"/>
<rect x="368.9" y="177.5" width="2.2" height="5.8" fill="#cc3f5e"/>
<rect x="372.4" y="177.5" width="2.2" height="34.2" fill="#375acb"/>
<rect x="375.5" y="190.8" width="1" height="20.9" fill="#cc3f5e" opacity="0.75"/>
<rect x="374.9" y="200.8" width="2.2" height="10.9" fill="#cc3f5e"/>
<rect x="377.4" y="200.8" width="2.2" height="30.9" fill="#375acb"/>
<rect x="381.5" y="213.3" width="1" height="30.7" fill="#cc3f5e" opacity="0.75"/>
<rect x="380.9" y="213.3" width="2.2" height="18.4" fill="#cc3f5e"/>
<rect x="383.4" y="213.3" width="2.2" height="15" fill="#375acb"/>
<rect x="385.4" y="200.8" width="2.2" height="27.5" fill="#cc3f5e"/>
<rect x="387.9" y="190.8" width="2.2" height="10" fill="#cc3f5e"/>
<rect x="390.4" y="190" width="2.2" height="1.5" fill="#cc3f5e"/>
<rect x="393" y="190.8" width="1" height="26.7" fill="#375acb" opacity="0.75"/>
<rect x="392.4" y="190.8" width="2.2" height="3.4" fill="#375acb"/>
<rect x="396" y="175.8" width="1" height="18.4" fill="#cc3f5e" opacity="0.75"/>
<rect x="395.4" y="190" width="2.2" height="4.2" fill="#cc3f5e"/>
<rect x="398.5" y="188.3" width="1" height="15" fill="#cc3f5e" opacity="0.75"/>
<rect x="397.9" y="188.3" width="2.2" height="1.7" fill="#cc3f5e"/>
<rect x="401" y="174.2" width="1" height="14.1" fill="#cc3f5e" opacity="0.75"/>
<rect x="400.4" y="179.2" width="2.2" height="9.1" fill="#cc3f5e"/>
<rect x="403.4" y="179.2" width="2.2" height="13.3" fill="#375acb"/>
<rect x="406.5" y="192.5" width="1" height="11.5" fill="#375acb" opacity="0.75"/>
<rect x="405.9" y="192.5" width="2.2" height="9.2" fill="#375acb"/>
<rect x="408.4" y="190.8" width="2.2" height="10.9" fill="#cc3f5e"/>
<rect x="410.9" y="176.7" width="2.2" height="14.1" fill="#cc3f5e"/>
<rect x="414" y="168.3" width="1" height="16.7" fill="#375acb" opacity="0.75"/>
<rect x="413.4" y="176.7" width="2.2" height="8.3" fill="#375acb"/>
<rect x="415.9" y="185" width="2.2" height="5.8" fill="#375acb"/>
<rect x="418.5" y="184" width="1" height="8.5" fill="#375acb" opacity="0.75"/>
<rect x="417.9" y="190.8" width="2.2" height="1.7" fill="#375acb"/>
<rect x="420.4" y="192.5" width="2.2" height="12.5" fill="#375acb"/>
<rect x="422.9" y="195" width="2.2" height="10" fill="#cc3f5e"/>
<rect x="424.9" y="205" width="2.2" height="26.7" fill="#375acb"/>
<rect x="427.9" y="232.5" width="2.2" height="6.7" fill="#375acb"/>
<rect x="431" y="232.5" width="1" height="12.5" fill="#cc3f5e" opacity="0.75"/>
<rect x="430.4" y="232.5" width="2.2" height="6.5" fill="#cc3f5e"/>
<rect x="432.9" y="232.5" width="2.2" height="41.7" fill="#375acb"/>
<rect x="435.4" y="274.2" width="2.2" height="21.6" fill="#375acb"/>
<rect x="437.4" y="250.8" width="2.2" height="45" fill="#cc3f5e"/>
<rect x="439.9" y="232.5" width="2.2" height="18.3" fill="#cc3f5e"/>
<rect x="444" y="228" width="1" height="22.8" fill="#375acb" opacity="0.75"/>
<rect x="443.4" y="232.5" width="2.2" height="2.5" fill="#375acb"/>
<rect x="445.9" y="199.2" width="2.2" height="34.1" fill="#cc3f5e"/>
<rect x="447.9" y="167.5" width="2.2" height="31.7" fill="#cc3f5e"/>
<rect x="450.9" y="167.5" width="2.2" height="25" fill="#375acb"/>
<rect x="454.5" y="185.8" width="1" height="14.2" fill="#cc3f5e" opacity="0.75"/>
<rect x="453.9" y="185.8" width="2.2" height="6.7" fill="#cc3f5e"/>
<rect x="455.9" y="180" width="2.2" height="5.8" fill="#cc3f5e"/>
<rect x="458.4" y="179" width="2.2" height="1.5" fill="#cc3f5e"/>
<rect x="461.9" y="133.3" width="2.2" height="45.9" fill="#cc3f5e"/>
<rect x="464.4" y="133.3" width="2.2" height="25" fill="#375acb"/>
<rect x="467.5" y="153.3" width="1" height="21.7" fill="#375acb" opacity="0.75"/>
<rect x="466.9" y="158.3" width="2.2" height="16.7" fill="#375acb"/>
<rect x="470.5" y="175" width="1" height="27" fill="#375acb" opacity="0.75"/>
<rect x="469.9" y="175" width="2.2" height="16.7" fill="#375acb"/>
<rect x="473" y="186.7" width="1" height="21.6" fill="#cc3f5e" opacity="0.75"/>
<rect x="472.4" y="186.7" width="2.2" height="5" fill="#cc3f5e"/>
<rect x="474.9" y="186.7" width="2.2" height="5.8" fill="#375acb"/>
<rect x="478.5" y="187.5" width="1" height="13.3" fill="#cc3f5e" opacity="0.75"/>
<rect x="477.9" y="187.5" width="2.2" height="5" fill="#cc3f5e"/>
<rect x="480.5" y="171.7" width="1" height="20.8" fill="#375acb" opacity="0.75"/>
<rect x="479.9" y="187.5" width="2.2" height="5" fill="#375acb"/>
<rect x="483.4" y="185.8" width="2.2" height="4.2" fill="#cc3f5e"/>
<rect x="485.9" y="185.8" width="2.2" height="11.7" fill="#375acb"/>
<rect x="489" y="197.5" width="1" height="22.5" fill="#375acb" opacity="0.75"/>
<rect x="488.4" y="197.5" width="2.2" height="7.5" fill="#375acb"/>
<rect x="491.5" y="192.5" width="1" height="28.3" fill="#cc3f5e" opacity="0.75"/>
<rect x="490.9" y="192.5" width="2.2" height="13.3" fill="#cc3f5e"/>
<rect x="493.4" y="191.7" width="2.2" height="1.2" fill="#cc3f5e"/>
<rect x="496.5" y="191.7" width="1" height="23.3" fill="#375acb" opacity="0.75"/>
<rect x="495.9" y="191.7" width="2.2" height="16.6" fill="#375acb"/>
<rect x="498.9" y="195.8" width="2.2" height="12.5" fill="#cc3f5e"/>
<rect x="501.4" y="166.7" width="2.2" height="29.1" fill="#cc3f5e"/>
<rect x="503.9" y="166" width="2.2" height="2" fill="#cc3f5e"/>
<rect x="506.9" y="162.5" width="2.2" height="10.8" fill="#cc3f5e"/>
<rect x="509.4" y="162.5" width="2.2" height="10.8" fill="#375acb"/>
<rect x="512" y="173.3" width="1" height="16.7" fill="#375acb" opacity="0.75"/>
<rect x="511.4" y="173.3" width="2.2" height="8.4" fill="#375acb"/>
<rect x="514.5" y="154.2" width="1" height="27.5" fill="#cc3f5e" opacity="0.75"/>
<rect x="513.9" y="164.2" width="2.2" height="17.5" fill="#cc3f5e"/>
<rect x="517.5" y="157.5" width="1" height="8.5" fill="#cc3f5e" opacity="0.75"/>
<rect x="516.9" y="164.2" width="2.2" height="1.8" fill="#cc3f5e"/>
<rect x="519.4" y="164.2" width="2.2" height="12.5" fill="#375acb"/>
<rect x="522.5" y="176.7" width="1" height="10" fill="#375acb" opacity="0.75"/>
<rect x="521.9" y="176.7" width="2.2" height="5.8" fill="#375acb"/>
<rect x="524.9" y="175" width="2.2" height="8.3" fill="#cc3f5e"/>
<rect x="528" y="165" width="1" height="17.5" fill="#375acb" opacity="0.75"/>
<rect x="527.4" y="175" width="2.2" height="7.5" fill="#375acb"/>
<rect x="529.9" y="182.5" width="2.2" height="8.3" fill="#375acb"/>
<rect x="533.5" y="180.8" width="1" height="11.7" fill="#cc3f5e" opacity="0.75"/>
<rect x="532.9" y="180.8" width="2.2" height="10" fill="#cc3f5e"/>
<rect x="535.4" y="177.5" width="2.2" height="3.3" fill="#cc3f5e"/>
<rect x="537.9" y="177" width="2.2" height="1.5" fill="#cc3f5e"/>
<rect x="540.5" y="169" width="1" height="12.7" fill="#375acb" opacity="0.75"/>
<rect x="539.9" y="176.7" width="2.2" height="5" fill="#375acb"/>
<rect x="542.9" y="176.7" width="2.2" height="5" fill="#cc3f5e"/>
<rect x="546" y="169" width="1" height="28.5" fill="#375acb" opacity="0.75"/>
<rect x="545.4" y="176.7" width="2.2" height="20.8" fill="#375acb"/>
<rect x="548.4" y="197.5" width="2.2" height="1.5" fill="#375acb"/>
<polyline points="300.5,462 304.5,442.3 308.2,456.8 312.3,451.4 314.5,462" fill="none" stroke="#9090b0" stroke-width="1.2"/>
<polyline points="317.7,462 320.5,441.4 321.8,462" fill="none" stroke="#9090b0" stroke-width="1.2"/>
<text x="1189.5" y="18" text-anchor="end" font-size="10.2" fill="#2a2e39" stroke="#2a2e39" stroke-width="0.15" font-family='"Liberation Sans", "Noto Sans CJK KR", sans-serif' textLength="41.5" lengthAdjust="spacingAndGlyphs">96,240.00</text>
<text x="1189.5" y="42.38" text-anchor="end" font-size="10.2" fill="#2a2e39" stroke="#2a2e39" stroke-width="0.15" font-family='"Liberation Sans", "Noto Sans CJK KR", sans-serif' textLength="41.5" lengthAdjust="spacingAndGlyphs">96,200.00</text>
<text x="1189.5" y="66.76" text-anchor="end" font-size="10.2" fill="#2a2e39" stroke="#2a2e39" stroke-width="0.15" font-family='"Liberation Sans", "Noto Sans CJK KR", sans-serif' textLength="41.5" lengthAdjust="spacingAndGlyphs">96,160.00</text>
<text x="1189.5" y="91.14" text-anchor="end" font-size="10.2" fill="#2a2e39" stroke="#2a2e39" stroke-width="0.15" font-family='"Liberation Sans", "Noto Sans CJK KR", sans-serif' textLength="41.5" lengthAdjust="spacingAndGlyphs">96,120.00</text>
<text x="1189.5" y="115.52" text-anchor="end" font-size="10.2" fill="#2a2e39" stroke="#2a2e39" stroke-width="0.15" font-family='"Liberation Sans", "Noto Sans CJK KR", sans-serif' textLength="41.5" lengthAdjust="spacingAndGlyphs">96,080.00</text>
<text x="1189.5" y="139.9" text-anchor="end" font-size="10.2" fill="#2a2e39" stroke="#2a2e39" stroke-width="0.15" font-family='"Liberation Sans", "Noto Sans CJK KR", sans-serif' textLength="41.5" lengthAdjust="spacingAndGlyphs">96,040.00</text>
<text x="1189.5" y="164.28" text-anchor="end" font-size="10.2" fill="#2a2e39" stroke="#2a2e39" stroke-width="0.15" font-family='"Liberation Sans", "Noto Sans CJK KR", sans-serif' textLength="41.5" lengthAdjust="spacingAndGlyphs">96,000.00</text>
<text x="1189.5" y="188.66" text-anchor="end" font-size="10.2" fill="#2a2e39" stroke="#2a2e39" stroke-width="0.15" font-family='"Liberation Sans", "Noto Sans CJK KR", sans-serif' textLength="41.5" lengthAdjust="spacingAndGlyphs">95,960.00</text>
<text x="1189.5" y="213.04" text-anchor="end" font-size="10.2" fill="#2a2e39" stroke="#2a2e39" stroke-width="0.15" font-family='"Liberation Sans", "Noto Sans CJK KR", sans-serif' textLength="41.5" lengthAdjust="spacingAndGlyphs">95,920.00</text>
<text x="1189.5" y="237.42" text-anchor="end" font-size="10.2" fill="#2a2e39" stroke="#2a2e39" stroke-width="0.15" font-family='"Liberation Sans", "Noto Sans CJK KR", sans-serif' textLength="41.5" lengthAdjust="spacingAndGlyphs">95,880.00</text>
<text x="1189.5" y="261.8" text-anchor="end" font-size="10.2" fill="#2a2e39" stroke="#2a2e39" stroke-width="0.15" font-family='"Liberation Sans", "Noto Sans CJK KR", sans-serif' textLength="41.5" lengthAdjust="spacingAndGlyphs">95,840.00</text>
<text x="1189.5" y="286.18" text-anchor="end" font-size="10.2" fill="#2a2e39" stroke="#2a2e39" stroke-width="0.15" font-family='"Liberation Sans", "Noto Sans CJK KR", sans-serif' textLength="41.5" lengthAdjust="spacingAndGlyphs">95,800.00</text>
<text x="1189.5" y="310.56" text-anchor="end" font-size="10.2" fill="#2a2e39" stroke="#2a2e39" stroke-width="0.15" font-family='"Liberation Sans", "Noto Sans CJK KR", sans-serif' textLength="41.5" lengthAdjust="spacingAndGlyphs">95,760.00</text>
<text x="1189.5" y="334.94" text-anchor="end" font-size="10.2" fill="#2a2e39" stroke="#2a2e39" stroke-width="0.15" font-family='"Liberation Sans", "Noto Sans CJK KR", sans-serif' textLength="41.5" lengthAdjust="spacingAndGlyphs">95,720.00</text>
<text x="1189.5" y="359.32" text-anchor="end" font-size="10.2" fill="#2a2e39" stroke="#2a2e39" stroke-width="0.15" font-family='"Liberation Sans", "Noto Sans CJK KR", sans-serif' textLength="41.5" lengthAdjust="spacingAndGlyphs">95,680.00</text>
<text x="1189.5" y="383.7" text-anchor="end" font-size="10.2" fill="#2a2e39" stroke="#2a2e39" stroke-width="0.15" font-family='"Liberation Sans", "Noto Sans CJK KR", sans-serif' textLength="41.5" lengthAdjust="spacingAndGlyphs">95,640.00</text>
<text x="1189.5" y="408.08" text-anchor="end" font-size="10.2" fill="#2a2e39" stroke="#2a2e39" stroke-width="0.15" font-family='"Liberation Sans", "Noto Sans CJK KR", sans-serif' textLength="41.5" lengthAdjust="spacingAndGlyphs">95,600.00</text>
<text x="1147.7" y="435.7" font-size="10.2" fill="#2a2e39" stroke="#2a2e39" stroke-width="0.15" font-family='"Liberation Sans", "Noto Sans CJK KR", sans-serif' textLength="23.3" lengthAdjust="spacingAndGlyphs">80.00</text>
<rect x="1141.3" y="193" width="51.5" height="13" rx="1.5" fill="#2962ff"/>
<text x="1189.5" y="202.8" text-anchor="end" font-size="10.2" fill="#ffffff" stroke="#ffffff" stroke-width="0.2" font-family='"Liberation Sans", "Noto Sans CJK KR", sans-serif' textLength="41.5" lengthAdjust="spacingAndGlyphs">95,936.15</text>
<rect x="1141.3" y="366.2" width="51.5" height="12.6" rx="1.5" fill="#2962ff"/>
<text x="1189.5" y="375.8" text-anchor="end" font-size="10.2" fill="#ffffff" stroke="#ffffff" stroke-width="0.2" font-family='"Liberation Sans", "Noto Sans CJK KR", sans-serif' textLength="41.5" lengthAdjust="spacingAndGlyphs">95,651.89</text>
<rect x="1141.5" y="407.8" width="15.4" height="11.7" fill="#2962ff"/>
<text x="1149.2" y="417.3" text-anchor="middle" font-size="10" fill="#ffffff" stroke="#ffffff" stroke-width="0.3" font-family='"Liberation Sans", "Noto Sans CJK KR", sans-serif'>1</text>
<rect x="715.7" y="47.9" width="109" height="29.2" rx="4" fill="#ffffff" stroke="#ececec" stroke-width="1" filter="url(#sh)"/>
<circle cx="722.8" cy="57.7" r="0.8" fill="#c8c8c8"/>
<circle cx="722.8" cy="61.8" r="0.8" fill="#c8c8c8"/>
<circle cx="722.8" cy="65.9" r="0.8" fill="#c8c8c8"/>
<circle cx="727.7" cy="57.7" r="0.8" fill="#c8c8c8"/>
<circle cx="727.7" cy="61.8" r="0.8" fill="#c8c8c8"/>
<circle cx="727.7" cy="65.9" r="0.8" fill="#c8c8c8"/>
<line x1="741.5" y1="54.4" x2="758.5" y2="54.4" stroke="#333333" stroke-width="1"/>
<line x1="741.5" y1="59" x2="756.5" y2="59" stroke="#333333" stroke-width="1"/>
<line x1="741.5" y1="63.9" x2="758.5" y2="63.9" stroke="#333333" stroke-width="1"/>
<line x1="743.5" y1="68.6" x2="758.5" y2="68.6" stroke="#333333" stroke-width="1"/>
<circle cx="758" cy="59" r="1.6" fill="#fff" stroke="#333333" stroke-width="1"/>
<circle cx="741.6" cy="68.6" r="1.6" fill="#fff" stroke="#333333" stroke-width="1"/>
<line x1="772.3" y1="58.1" x2="783.7" y2="54.4" stroke="#333333" stroke-width="1"/>
<line x1="772.3" y1="58.1" x2="772.3" y2="63.9" stroke="#333333" stroke-width="1"/>
<line x1="774" y1="63.9" x2="789.3" y2="63.9" stroke="#333333" stroke-width="1"/>
<line x1="772" y1="67.2" x2="789.3" y2="67.2" stroke="#333333" stroke-width="1"/>
<line x1="772" y1="70.6" x2="789.3" y2="70.6" stroke="#333333" stroke-width="1"/>
<circle cx="772.3" cy="58.1" r="1.6" fill="#fff" stroke="#333333" stroke-width="1"/>
<circle cx="783.7" cy="54.4" r="1.6" fill="#fff" stroke="#333333" stroke-width="1"/>
<circle cx="772.3" cy="63.9" r="1.6" fill="#fff" stroke="#333333" stroke-width="1"/>
<line x1="802.7" y1="68.6" x2="816.7" y2="54.9" stroke="#333333" stroke-width="1"/>
<circle cx="802.7" cy="68.6" r="1.6" fill="#fff" stroke="#333333" stroke-width="1"/>
<circle cx="816.7" cy="54.9" r="1.6" fill="#fff" stroke="#333333" stroke-width="1"/>
<circle cx="550" cy="409.4" r="7.3" fill="#fcf3fd" stroke="#a04ab8" stroke-width="1.4"/>
<path d="M552.6,405.6 L547.2,410.2 L550.2,410.2 L547.4,413.6 L553,408.6 L550,408.6 Z" fill="#7e2f96"/>
<circle cx="19.5" cy="11.4" r="4.5" fill="#1d8c88"/>
<path d="M17.3,9.6 L21.7,9.6 M19.5,9.6 L19.5,13.8" stroke="#a6ecec" stroke-width="1.3" fill="none"/>
<circle cx="14.4" cy="16.3" r="4.9" fill="#ffffff"/>
<circle cx="14.4" cy="16.3" r="4.4" fill="#ef9a2d"/>
<path d="M13.3,14.2 L13.3,18.4 M13.3,14.2 L15,14.2 Q16,14.2 16,15.2 Q16,16.2 14.8,16.2 L13.3,16.2 M14.8,16.2 Q16.2,16.2 16.2,17.3 Q16.2,18.4 15,18.4 L13.3,18.4" stroke="#f9cf8c" stroke-width="0.9" fill="none"/>
<text x="26.8" y="19.2" font-size="12.4" fill="#2f3033" stroke="#2f3033" stroke-width="0.25" font-family='"Liberation Sans", "Noto Sans CJK KR", sans-serif' textLength="39.7" lengthAdjust="spacingAndGlyphs">Bitcoin</text>
<text x="80.6" y="19.2" font-size="12.4" fill="#2f3033" stroke="#2f3033" stroke-width="0.25" font-family='"Liberation Sans", "Noto Sans CJK KR", sans-serif' textLength="50.6" lengthAdjust="spacingAndGlyphs">TetherUS</text>
<text x="155.60000000000002" y="19.2" font-size="12.4" fill="#2f3033" stroke="#2f3033" stroke-width="0.25" font-family='"Liberation Sans", "Noto Sans CJK KR", sans-serif' textLength="45.1" lengthAdjust="spacingAndGlyphs">Binance</text>
<text x="71.6" y="19.2" font-size="12.4" fill="#2f3033" stroke="#2f3033" stroke-width="0.25" font-family='"Liberation Sans", "Noto Sans CJK KR", sans-serif'>/</text>
<text x="133.6" y="19.2" font-size="12.4" fill="#2f3033" stroke="#2f3033" stroke-width="0.25" font-family='"Liberation Sans", "Noto Sans CJK KR", sans-serif'>·</text>
<text x="141.2" y="19.2" font-size="12.4" fill="#2f3033" stroke="#2f3033" stroke-width="0.25" font-family='"Liberation Sans", "Noto Sans CJK KR", sans-serif'>1</text>
<text x="150.6" y="19.2" font-size="12.4" fill="#2f3033" stroke="#2f3033" stroke-width="0.25" font-family='"Liberation Sans", "Noto Sans CJK KR", sans-serif'>·</text>
<path d="M210.5,10.5 L219.5,10.5 L216.8,14.5 L219.5,18.5 L210.5,18.5 Z" fill="#f04848"/>
<circle cx="235.9" cy="14.6" r="5.6" fill="#e2f3ea"/>
<circle cx="235.9" cy="14.6" r="3.5" fill="#1f9a6a"/>
<text x="250" y="18.7" font-size="10.2" fill="#3a3a3a" stroke="#3a3a3a" stroke-width="0.2" font-family='"Liberation Sans", "Noto Sans CJK KR", sans-serif'>영행</text>
<text x="269.2" y="18.7" font-size="10" fill="#4a64b8" stroke="#4a64b8" stroke-width="0.2" font-family='"Liberation Sans", "Noto Sans CJK KR", sans-serif' textLength="45" lengthAdjust="spacingAndGlyphs">95,596.23</text>
<text x="320" y="18.7" font-size="10.2" fill="#3a3a3a" stroke="#3a3a3a" stroke-width="0.2" font-family='"Liberation Sans", "Noto Sans CJK KR", sans-serif'>시간</text>
<text x="339.2" y="18.7" font-size="10" fill="#4a64b8" stroke="#4a64b8" stroke-width="0.2" font-family='"Liberation Sans", "Noto Sans CJK KR", sans-serif' textLength="44.4" lengthAdjust="spacingAndGlyphs">96,192.00</text>
<text x="390" y="18.7" font-size="10.2" fill="#3a3a3a" stroke="#3a3a3a" stroke-width="0.2" font-family='"Liberation Sans", "Noto Sans CJK KR", sans-serif'>엘</text>
<text x="399.2" y="18.7" font-size="10" fill="#4a64b8" stroke="#4a64b8" stroke-width="0.2" font-family='"Liberation Sans", "Noto Sans CJK KR", sans-serif' textLength="45" lengthAdjust="spacingAndGlyphs">94,841.62</text>
<text x="449.7" y="18.7" font-size="10.2" fill="#3a3a3a" stroke="#3a3a3a" stroke-width="0.2" font-family='"Liberation Sans", "Noto Sans CJK KR", sans-serif'>기음</text>
<text x="468.3" y="18.7" font-size="10" fill="#4a64b8" stroke="#4a64b8" stroke-width="0.2" font-family='"Liberation Sans", "Noto Sans CJK KR", sans-serif' textLength="45" lengthAdjust="spacingAndGlyphs">95,976.15</text>
<text x="519.7" y="18.7" font-size="10" fill="#4a64b8" stroke="#4a64b8" stroke-width="0.2" font-family='"Liberation Sans", "Noto Sans CJK KR", sans-serif' textLength="33.8" lengthAdjust="spacingAndGlyphs">+379.91</text>
<text x="559.2" y="18.7" font-size="10" fill="#4a64b8" stroke="#4a64b8" stroke-width="0.2" font-family='"Liberation Sans", "Noto Sans CJK KR", sans-serif' textLength="37.3" lengthAdjust="spacingAndGlyphs">(+0.40%)</text>
<rect x="9.7" y="27.8" width="62" height="25.6" rx="4" fill="#fff" stroke="#dc97a6" stroke-width="1"/>
<text x="17.9" y="38.5" font-size="9.6" fill="#c9557a" stroke="#c9557a" stroke-width="0.2" font-family='"Liberation Sans", "Noto Sans CJK KR", sans-serif' textLength="45" lengthAdjust="spacingAndGlyphs">95,976.14</text>
<text x="31.5" y="49.3" font-size="8.2" fill="#c9718a" font-family='"Liberation Sans", "Noto Sans CJK KR", sans-serif' textLength="17.2" lengthAdjust="spacingAndGlyphs">SELL</text>
<text x="78.3" y="43" font-size="8" fill="#333" stroke="#333" stroke-width="0.2" font-family='"Liberation Sans", "Noto Sans CJK KR", sans-serif' textLength="14.6" lengthAdjust="spacingAndGlyphs">0.01</text>
<rect x="100.3" y="27.8" width="62" height="25.6" rx="4" fill="#fff" stroke="#8da0d8" stroke-width="1"/>
<text x="108.5" y="38.5" font-size="9.6" fill="#5068bb" stroke="#5068bb" stroke-width="0.2" font-family='"Liberation Sans", "Noto Sans CJK KR", sans-serif' textLength="45" lengthAdjust="spacingAndGlyphs">95,976.15</text>
<text x="131.3" y="49.3" text-anchor="middle" font-size="8.2" fill="#6a80c8" font-family='"Liberation Sans", "Noto Sans CJK KR", sans-serif'>BUY</text>
<text x="10.2" y="72" font-size="10.2" fill="#3a3a3a" font-family='"Liberation Sans", "Noto Sans CJK KR", sans-serif'>볼륨</text>
<text x="31.5" y="72" font-size="10.2" fill="#3a3a3a" font-family='"Liberation Sans", "Noto Sans CJK KR", sans-serif'>·</text>
<text x="38.8" y="72" font-size="10.2" fill="#3a3a3a" font-family='"Liberation Sans", "Noto Sans CJK KR", sans-serif' textLength="17.3" lengthAdjust="spacingAndGlyphs">BTC</text>
<text x="63" y="72" font-size="10.2" fill="#5a76cc" font-family='"Liberation Sans", "Noto Sans CJK KR", sans-serif' textLength="26" lengthAdjust="spacingAndGlyphs">2.68K</text>
<rect x="9.8" y="78.6" width="21.4" height="16.2" rx="3" fill="#fff" stroke="#e3e3e3" stroke-width="1"/>
<path d="M17.4,88.2 L20.8,85 L24.2,88.2" fill="none" stroke="#333" stroke-width="1.5"/>
<text x="10.3" y="437.4" font-size="10.2" fill="#333" stroke="#333" stroke-width="0.35" font-family='"Liberation Sans", "Noto Sans CJK KR", sans-serif' textLength="12.5" lengthAdjust="spacingAndGlyphs">RSI</text>
<text x="27" y="437.4" font-size="10.4" fill="#555" font-family='"Liberation Sans", "Noto Sans CJK KR", sans-serif' textLength="8.8" lengthAdjust="spacingAndGlyphs">14</text>
<text x="39.6" y="437.9" font-size="9.8" fill="#555" font-family='"Liberation Sans", "Noto Sans CJK KR", sans-serif'>닫다</text>
<text x="65" y="437.4" font-size="10.4" fill="#7d74b2" font-family='"Liberation Sans", "Noto Sans CJK KR", sans-serif' textLength="25" lengthAdjust="spacingAndGlyphs">33.49</text>
<text x="95.9" y="437.4" font-size="10.4" fill="#dcd55a" font-family='"Liberation Sans", "Noto Sans CJK KR", sans-serif' textLength="23.8" lengthAdjust="spacingAndGlyphs">37.29</text>
<line x1="3" y1="199.5" x2="1140" y2="199.5" stroke="#8a8f9c" stroke-width="1" stroke-dasharray="1 1.3"/>
<line x1="47" y1="372.3" x2="1141" y2="372.3" stroke="#4662ab" stroke-width="1.8"/>
<line x1="249.5" y1="1.3" x2="930.6" y2="419.2" stroke="#c34b6a" stroke-width="1.7"/>
<line x1="100.8" y1="420" x2="1139.5" y2="39.7" stroke="#db9c36" stroke-width="1.7"/>
<text x="0" y="0" transform="translate(397.5,81) rotate(31.5)" text-anchor="middle" dominant-baseline="middle" font-size="11" fill="#c8557a" font-family='"Liberation Sans", "Noto Sans CJK KR", sans-serif'>저항선</text>
<text x="0" y="0" transform="translate(331,325) rotate(-20)" text-anchor="middle" dominant-baseline="middle" font-size="11" fill="#e39c3a" font-family='"Liberation Sans", "Noto Sans CJK KR", sans-serif'>추세선</text>
<text x="594.3" y="383.4" text-anchor="middle" font-size="10" fill="#55649e" font-family='"Liberation Sans", "Noto Sans CJK KR", sans-serif'>지지선</text>
</svg>
</body></html>
